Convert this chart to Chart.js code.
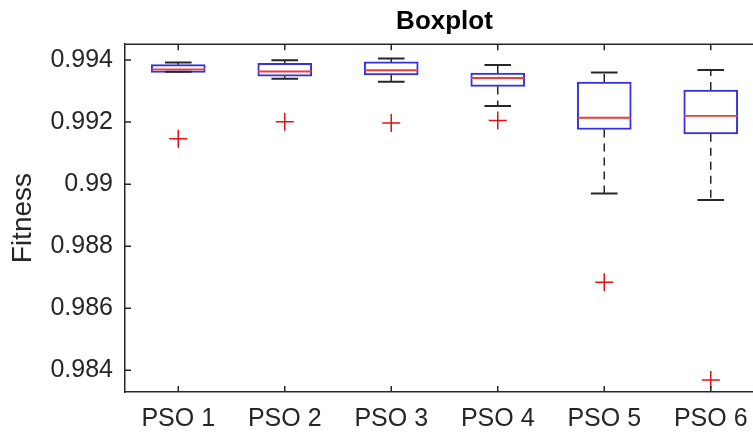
<!DOCTYPE html>
<html>
<head>
<meta charset="utf-8">
<script src="https://cdn.jsdelivr.net/npm/chart.js@4.4.1/dist/chart.umd.min.js"></script>
<style>
  html, body { margin: 0; padding: 0; background: #fff; overflow: hidden; }
  #wrap { width: 780px; height: 436px; }
</style>
</head>
<body>
<div id="wrap"><canvas id="caja"></canvas></div>
<script>
'use strict'

const categorias = ['PSO 1', 'PSO 2', 'PSO 3', 'PSO 4', 'PSO 5', 'PSO 6']
const bigoteBajo = [0.99362, 0.99340, 0.99330, 0.99252, 0.98970, 0.98949]
const q1 = [0.99360, 0.99348, 0.99352, 0.99315, 0.99176, 0.99162]
const mediana = [0.99370, 0.99363, 0.99367, 0.99342, 0.99214, 0.99220]
const q3 = [0.99385, 0.99389, 0.99394, 0.99358, 0.99329, 0.99303]
const bigoteAlto = [0.99392, 0.99399, 0.99405, 0.99384, 0.99360, 0.99368]
const atipicos = [0.99146, 0.99201, 0.99197, 0.99205, 0.98684, 0.98369]
const yTicks = [0.984, 0.986, 0.988, 0.99, 0.992, 0.994]

const gris = '#262626'

// segmentos con huecos (y:null) entre cajas
function segmentos(fn){
  let pts = []
  for(let i=0;i<categorias.length;i++){
    pts = pts.concat(fn(i+1, i))
    pts.push({x: i+1.3, y: null})
  }
  return pts
}

const bigotes = segmentos((x,i)=>[{x:x,y:q3[i]},{x:x,y:bigoteAlto[i]},{x:x+0.01,y:null},{x:x,y:q1[i]},{x:x,y:bigoteBajo[i]}])
const topes = segmentos((x,i)=>[{x:x-0.125,y:bigoteAlto[i]},{x:x+0.125,y:bigoteAlto[i]},{x:x+0.13,y:null},{x:x-0.125,y:bigoteBajo[i]},{x:x+0.125,y:bigoteBajo[i]}])
const medianas = segmentos((x,i)=>[{x:x-0.25,y:mediana[i]},{x:x+0.25,y:mediana[i]}])

const ticksDentro = {
  id: 'ticksDentro',
  afterDraw(chart){
    const ctx = chart.ctx
    const a = chart.chartArea
    const xs = chart.scales.x, ys = chart.scales.y
    ctx.save()
    ctx.strokeStyle = gris
    ctx.lineWidth = 1.5
    ctx.beginPath()
    ctx.moveTo(a.left, a.top); ctx.lineTo(a.right, a.top)
    ctx.moveTo(a.right, a.top); ctx.lineTo(a.right, a.bottom)
    yTicks.forEach(v=>{
      const py = ys.getPixelForValue(v)
      ctx.moveTo(a.left, py); ctx.lineTo(a.left+6, py)
      ctx.moveTo(a.right, py); ctx.lineTo(a.right-6, py)
    })
    categorias.forEach((c,i)=>{
      const px = xs.getPixelForValue(i+1)
      ctx.moveTo(px, a.bottom); ctx.lineTo(px, a.bottom-6)
      ctx.moveTo(px, a.top); ctx.lineTo(px, a.top+6)
    })
    ctx.stroke()
    ctx.restore()
  }
}

const config = {
  type: 'bar',
  data: {
    datasets: [
      {
        type: 'line',
        data: bigotes,
        borderColor: gris,
        borderWidth: 1.5,
        borderDash: [8, 6],
        pointRadius: 0,
        spanGaps: false,
        order: 1
      },
      {
        type: 'line',
        data: topes,
        borderColor: gris,
        borderWidth: 2,
        pointRadius: 0,
        spanGaps: false,
        order: 1
      },
      {
        type: 'bar',
        data: categorias.map((c,i)=>({x: i+1, y: [q1[i], q3[i]]})),
        backgroundColor: '#ffffff',
        borderColor: 'rgb(50,50,225)',
        borderWidth: 2,
        borderSkipped: false,
        barThickness: 54,
        order: 5
      },
      {
        type: 'line',
        data: medianas,
        borderColor: 'rgb(240,60,60)',
        borderWidth: 1.8,
        pointRadius: 0,
        spanGaps: false,
        order: 0
      },
      {
        type: 'scatter',
        data: atipicos.map((v,i)=>({x: i+1, y: v})),
        pointStyle: 'cross',
        pointRadius: 9,
        borderColor: 'rgb(220,20,20)',
        borderWidth: 1.5,
        order: 0
      }
    ]
  },
  options: {
    responsive: true,
    maintainAspectRatio: false,
    animation: false,
    layout: { padding: { left: 0, right: 16, top: 0, bottom: 0 } },
    plugins: {
      legend: { display: false },
      tooltip: { enabled: false },
      title: {
        display: true,
        fullSize: false,
        text: 'Boxplot',
        color: '#000',
        font: { family: 'Liberation Sans', size: 26, weight: 'bold' },
        padding: { top: 6, bottom: 7 }
      }
    },
    scales: {
      x: {
        type: 'linear',
        min: 0.5,
        max: 6.5,
        offset: false,
        grid: { display: false, drawTicks: false },
        border: { display: true, color: gris, width: 1.5 },
        afterBuildTicks: s => { s.ticks = categorias.map((c,i)=>({value: i+1})) },
        afterFit: s => { s.height = 44 },
        ticks: {
          color: gris,
          padding: 12,
          font: { family: 'Liberation Sans', size: 25 },
          callback: v => categorias[v-1],
          maxRotation: 0,
          autoSkip: false
        }
      },
      y: {
        min: 0.98330,
        max: 0.99451,
        grid: { display: false, drawTicks: false },
        border: { display: true, color: gris, width: 1.5 },
        afterBuildTicks: s => { s.ticks = yTicks.map(v=>({value: v})) },
        afterFit: s => { s.width = 125 },
        title: {
          display: true,
          text: 'Fitness',
          color: gris,
          font: { family: 'Liberation Sans', size: 28 },
          padding: { top: 6, bottom: 0 }
        },
        ticks: {
          color: gris,
          padding: 12,
          font: { family: 'Liberation Sans', size: 25 },
          callback: v => String(v)
        }
      }
    }
  },
  plugins: [ticksDentro]
}

let caja = new Chart(document.querySelector('#caja'), config)
</script>
</body>
</html>
